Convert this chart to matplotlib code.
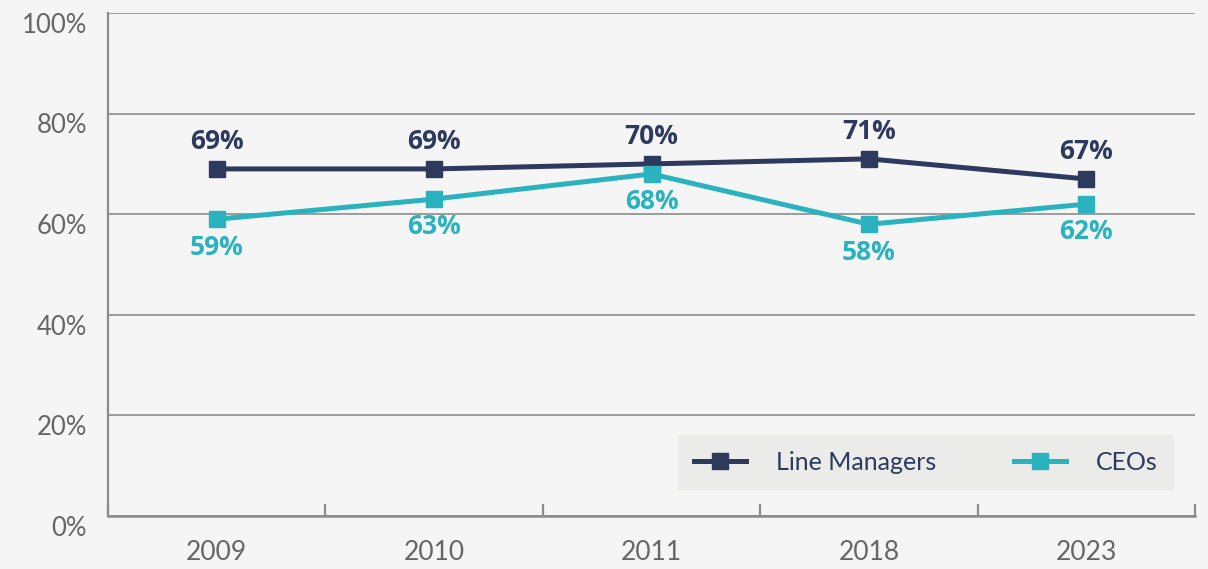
import matplotlib
matplotlib.use("Agg")
from matplotlib import pyplot as plt
from matplotlib.ticker import FixedLocator, NullFormatter
import matplotlib.transforms as mtransforms

years = ["2009", "2010", "2011", "2018", "2023"]
line_managers = [69, 69, 70, 71, 67]
ceos = [59, 63, 68, 58, 62]
y_ticks = [0, 20, 40, 60, 80, 100]

NAVY = "#2d3a5e"
TEAL = "#2ab2be"
GRID = "#8c8c8c"
TICKTXT = "#666666"
BG = "#f5f5f5"


def main():
    plt.rcParams['font.family'] = ['Lato', 'DejaVu Sans']

    fig = plt.figure(figsize=(12.08, 5.69), dpi=100, facecolor=BG)
    ax = fig.add_axes([108 / 1208, 1 - 516 / 569, 1087 / 1208, 503 / 569])
    ax.set_facecolor(BG)

    x = list(range(len(years)))
    ax.plot(x, line_managers, color=NAVY, lw=3.6, marker="s", ms=12,
            label="Line Managers", zorder=3)
    ax.plot(x, ceos, color=TEAL, lw=3.6, marker="s", ms=12,
            label="CEOs", zorder=3)

    for xi, v in zip(x, line_managers):
        ax.annotate(f"{v}%", (xi, v), xytext=(0, 20), textcoords="offset points",
                    ha="center", va="center", color=NAVY, fontsize=19,
                    fontweight="bold", family=["Open Sans", "DejaVu Sans"])
    for xi, v in zip(x, ceos):
        ax.annotate(f"{v}%", (xi, v), xytext=(0, -20), textcoords="offset points",
                    ha="center", va="center", color=TEAL, fontsize=19,
                    fontweight="bold", family=["Open Sans", "DejaVu Sans"])

    ax.set_xlim(-0.5, len(years) - 0.5)
    ax.set_ylim(0, 100)

    # y axis
    ax.set_yticks(y_ticks)
    ax.set_yticklabels([f"{t}%" for t in y_ticks], fontsize=18.5, color=TICKTXT)
    ax.tick_params(axis="y", length=0, pad=15)
    offset = mtransforms.ScaledTranslation(0, -7 / 72, fig.dpi_scale_trans)
    for lbl in ax.get_yticklabels():
        lbl.set_transform(lbl.get_transform() + offset)
    ax.yaxis.grid(True, color=GRID, lw=1.2)
    ax.set_axisbelow(True)

    # x axis: labels centered, ticks at category boundaries
    ax.set_xticks(x)
    ax.set_xticklabels(years, fontsize=19, color=TICKTXT)
    ax.tick_params(axis="x", which="major", length=0, pad=17)
    ax.xaxis.set_minor_locator(FixedLocator([i - 0.5 for i in range(len(years) + 1)]))
    ax.xaxis.set_minor_formatter(NullFormatter())
    ax.tick_params(axis="x", which="minor", direction="in", length=9,
                   width=1.6, color=GRID)

    for side in ["top", "right"]:
        ax.spines[side].set_visible(False)
    ax.spines["left"].set_color(GRID)
    ax.spines["left"].set_linewidth(1.6)
    ax.spines["bottom"].set_color(GRID)
    ax.spines["bottom"].set_linewidth(1.8)

    leg = ax.legend(loc="center left", bbox_to_anchor=(0.524, 0.054, 0.457, 0.105),
                    mode="expand", ncol=2, frameon=True, fancybox=False,
                    fontsize=18, handlelength=2.1, borderpad=0.65,
                    borderaxespad=0, columnspacing=2.2, handletextpad=1.2)
    leg.get_frame().set_facecolor("#ebebe9")
    leg.get_frame().set_edgecolor("none")
    leg.get_frame().set_alpha(1)
    for t in leg.get_texts():
        t.set_color(NAVY)

    fig.savefig("out.png", dpi=100, facecolor=BG)


if __name__ == "__main__":
    main()
